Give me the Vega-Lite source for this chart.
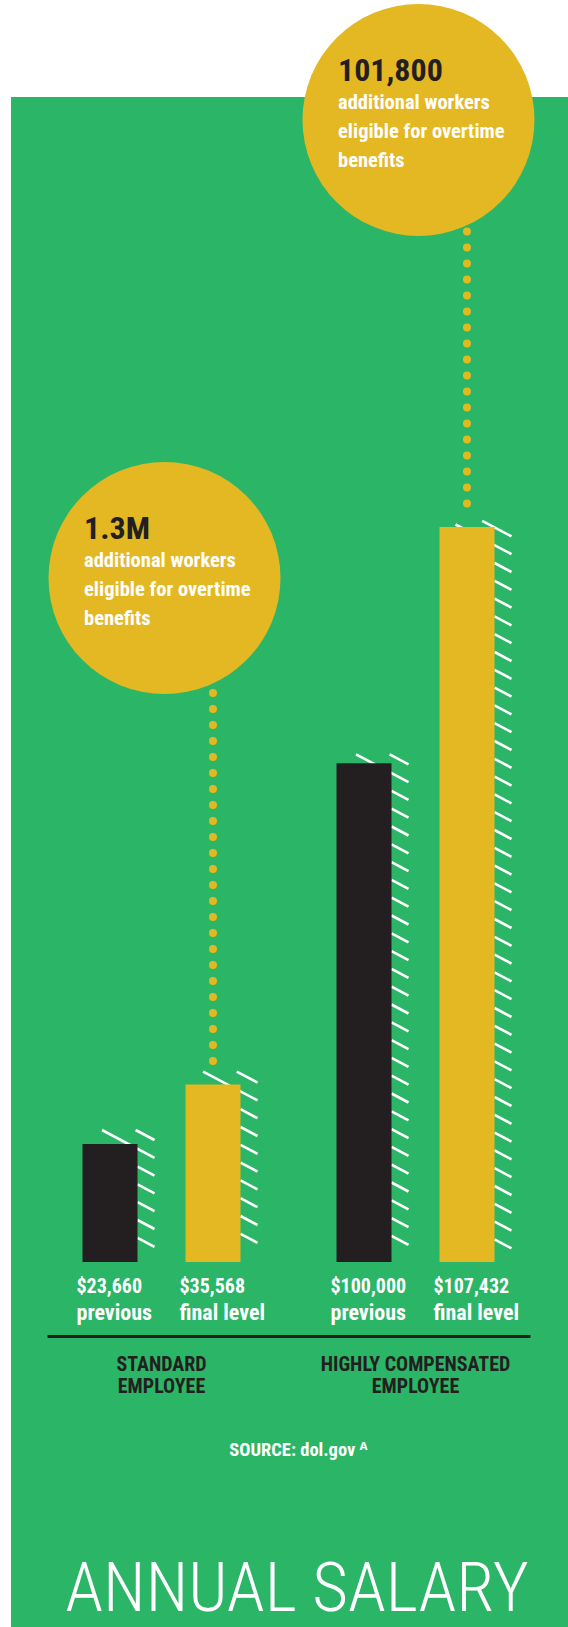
{
  "$schema": "https://vega.github.io/schema/vega-lite/v6.json",
  "width": 557,
  "height": 1530,
  "autosize": {"type": "none"},
  "padding": {"left": 11, "top": 97, "right": 0, "bottom": 0},
  "background": "white",
  "view": {"fill": "#2BB566", "stroke": null},
  "config": {"font": "Roboto Condensed, DejaVu Sans Condensed, sans-serif"},
  "title": {
    "text": "ANNUAL SALARY",
    "orient": "bottom",
    "frame": "group",
    "anchor": "middle",
    "offset": -16,
    "baseline": "alphabetic",
    "font": "Roboto Condensed, DejaVu Sans Condensed, sans-serif",
    "fontSize": 69,
    "fontWeight": 300,
    "color": "white",
    "dx": 7.5
  },
  "data": {
    "values": [
      {"group": "STANDARD|EMPLOYEE", "type": "previous", "salary": 23660, "drawn": 23660},
      {"group": "STANDARD|EMPLOYEE", "type": "final level", "salary": 35568, "drawn": 35568, "workers": "1.3M", "anchor": 137150},
      {"group": "HIGHLY  COMPENSATED|EMPLOYEE", "type": "previous", "salary": 100000, "drawn": 100000},
      {"group": "HIGHLY  COMPENSATED|EMPLOYEE", "type": "final level", "salary": 107432, "drawn": 147400, "workers": "101,800", "anchor": 229000}
    ]
  },
  "encoding": {
    "x": {
      "field": "group",
      "type": "nominal",
      "scale": {
        "domain": ["STANDARD|EMPLOYEE", "HIGHLY  COMPENSATED|EMPLOYEE"],
        "range": [36, 519],
        "paddingInner": 0.2,
        "paddingOuter": 0.0508
      },
      "axis": {
        "orient": "bottom",
        "offset": -291,
        "grid": false,
        "ticks": false,
        "domainColor": "#231F20",
        "domainWidth": 3,
        "labelExpr": "split(datum.label, '|')",
        "labelAngle": 0,
        "labelLimit": 0,
        "labelFontSize": 20,
        "labelFontWeight": "bold",
        "labelColor": "#231F20",
        "labelLineHeight": 22,
        "labelPadding": 34,
        "labelBaseline": "alphabetic",
        "title": "SOURCE: dol.gov ᴬ",
        "titleFontSize": 18.5,
        "titleFontWeight": "bold",
        "titleColor": "white",
        "titleX": 287,
        "titleAlign": "center",
        "titleY": 119,
        "titleBaseline": "alphabetic"
      }
    }
  },
  "layer": [
    {
      "mark": {"type": "point", "filled": false, "stroke": "white", "strokeWidth": 2.6, "size": 4, "opacity": 1, "strokeCap": "butt"},
      "encoding": {
        "xOffset": {"field": "type", "type": "nominal", "scale": {"domain": ["previous", "final level"], "paddingInner": 0.466, "paddingOuter": 0.2194}},
        "y": {"field": "drawn", "type": "quantitative", "scale": {"domain": [-73190, 233600], "nice": false, "zero": false}, "axis": null},
        "shape": {
          "field": "salary",
          "type": "nominal",
          "legend": null,
          "scale": {
            "domain": [23660, 35568, 100000, 107432],
            "range": [
              "M25.6,-14L44.5,-4M-8,-14L44.5,13.8M27.5,22.6l17,9M27.5,40.4l17,9M27.5,58.2l17,9M27.5,76l17,9M27.5,93.8l17,9",
              "M23.7,-13L44.5,-2M-9.9,-13L44.5,15.8M27.5,24.6l17,9M27.5,42.4l17,9M27.5,60.2l17,9M27.5,78l17,9M27.5,95.8l17,9M27.5,113.6l17,9M27.5,131.4l17,9M27.5,149.2l17,9",
              "M25.6,-9L44.5,1M-8,-9L44.5,18.8M27.5,27.6l17,9M27.5,45.4l17,9M27.5,63.2l17,9M27.5,81l17,9M27.5,98.8l17,9M27.5,116.6l17,9M27.5,134.4l17,9M27.5,152.2l17,9M27.5,170l17,9M27.5,187.8l17,9M27.5,205.6l17,9M27.5,223.4l17,9M27.5,241.2l17,9M27.5,259l17,9M27.5,276.8l17,9M27.5,294.6l17,9M27.5,312.4l17,9M27.5,330.2l17,9M27.5,348l17,9M27.5,365.8l17,9M27.5,383.6l17,9M27.5,401.4l17,9M27.5,419.2l17,9M27.5,437l17,9M27.5,454.8l17,9M27.5,472.6l17,9",
              "M15.2,-6L44.5,9.5M-11.5,-2.4L44.5,27.3M27.5,36.1l17,9M27.5,53.9l17,9M27.5,71.7l17,9M27.5,89.5l17,9M27.5,107.3l17,9M27.5,125.1l17,9M27.5,142.9l17,9M27.5,160.7l17,9M27.5,178.5l17,9M27.5,196.3l17,9M27.5,214.1l17,9M27.5,231.9l17,9M27.5,249.7l17,9M27.5,267.5l17,9M27.5,285.3l17,9M27.5,303.1l17,9M27.5,320.9l17,9M27.5,338.7l17,9M27.5,356.5l17,9M27.5,374.3l17,9M27.5,392.1l17,9M27.5,409.9l17,9M27.5,427.7l17,9M27.5,445.5l17,9M27.5,463.3l17,9M27.5,481.1l17,9M27.5,498.9l17,9M27.5,516.7l17,9M27.5,534.5l17,9M27.5,552.3l17,9M27.5,570.1l17,9M27.5,587.9l17,9M27.5,605.7l17,9M27.5,623.5l17,9M27.5,641.3l17,9M27.5,659.1l17,9M27.5,676.9l17,9M27.5,694.7l17,9M27.5,712.5l17,9"
            ]
          }
        }
      }
    },
    {
      "transform": [{"filter": "isValid(datum.anchor)"}],
      "mark": {"type": "rule", "color": "#E4B822", "strokeWidth": 8, "strokeCap": "round", "strokeDash": [0, 16], "yOffset": -23.5},
      "encoding": {
        "xOffset": {"field": "type", "type": "nominal"},
        "y": {"field": "drawn", "type": "quantitative"},
        "y2": {"field": "anchor"}
      }
    },
    {
      "mark": {"type": "bar"},
      "encoding": {
        "xOffset": {"field": "type", "type": "nominal"},
        "y": {"field": "drawn", "type": "quantitative"},
        "color": {"field": "type", "type": "nominal", "legend": null, "scale": {"domain": ["previous", "final level"], "range": ["#231F20", "#E4B822"]}}
      }
    },
    {
      "transform": [{"filter": "isValid(datum.anchor)"}],
      "mark": {"type": "point", "shape": "circle", "filled": true, "size": 53824, "color": "#E4B822", "opacity": 1, "xOffset": 3},
      "encoding": {
        "y": {"field": "anchor", "type": "quantitative"}
      }
    },
    {
      "transform": [{"filter": "isValid(datum.anchor)"}],
      "mark": {"type": "text", "align": "left", "baseline": "alphabetic", "dx": -77.5, "dy": -39, "fontSize": 32, "fontWeight": "bold", "color": "#231F20"},
      "encoding": {
        "y": {"field": "anchor", "type": "quantitative"},
        "text": {"field": "workers"}
      }
    },
    {
      "transform": [{"filter": "isValid(datum.anchor)"}],
      "mark": {"type": "text", "align": "left", "baseline": "alphabetic", "dx": -77.5, "dy": -11, "fontSize": 20.5, "fontWeight": "bold", "color": "white", "lineHeight": 29, "text": ["additional workers", "eligible for overtime", "benefits"]},
      "encoding": {
        "y": {"field": "anchor", "type": "quantitative"}
      }
    },
    {
      "mark": {"type": "text", "align": "left", "baseline": "alphabetic", "dx": -33.5, "dy": 31, "fontSize": 20, "fontWeight": "bold", "color": "white"},
      "encoding": {
        "xOffset": {"field": "type", "type": "nominal"},
        "y": {"datum": 0, "type": "quantitative"},
        "text": {"field": "salary", "type": "quantitative", "format": "$,"}
      }
    },
    {
      "mark": {"type": "text", "align": "left", "baseline": "alphabetic", "dx": -33.5, "dy": 58, "fontSize": 22, "fontWeight": "bold", "color": "white"},
      "encoding": {
        "xOffset": {"field": "type", "type": "nominal"},
        "y": {"datum": 0, "type": "quantitative"},
        "text": {"field": "type", "type": "nominal"}
      }
    }
  ]
}
